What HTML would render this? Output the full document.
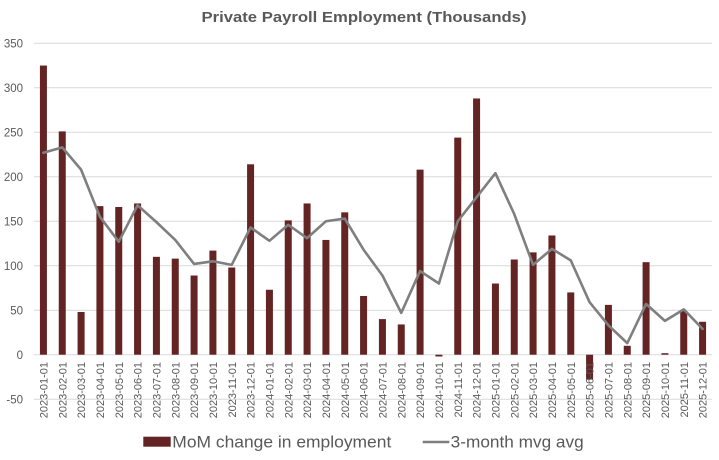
<!DOCTYPE html>
<html><head><meta charset="utf-8"><style>
html,body{margin:0;padding:0;background:#fff;}
svg{display:block;font-family:"Liberation Sans",Arial,sans-serif;}
</style></head><body>
<svg width="719" height="460" viewBox="0 0 719 460" xmlns="http://www.w3.org/2000/svg">
<rect width="719" height="460" fill="#fff"/>
<text x="364" y="22" font-size="15" font-weight="bold" fill="#595959" text-anchor="middle" textLength="325" lengthAdjust="spacingAndGlyphs">Private Payroll Employment (Thousands)</text>
<g stroke="#d9d9d9" stroke-width="1">
<line x1="34" x2="712" y1="43.3" y2="43.3"/>
<line x1="34" x2="712" y1="87.8" y2="87.8"/>
<line x1="34" x2="712" y1="132.3" y2="132.3"/>
<line x1="34" x2="712" y1="176.8" y2="176.8"/>
<line x1="34" x2="712" y1="221.2" y2="221.2"/>
<line x1="34" x2="712" y1="265.7" y2="265.7"/>
<line x1="34" x2="712" y1="310.2" y2="310.2"/>
<line x1="34" x2="712" y1="354.7" y2="354.7"/>
<line x1="34" x2="712" y1="399.2" y2="399.2"/>
</g>
<g font-size="11.5" fill="#595959" text-anchor="end">
<text x="23" y="47.5">350</text>
<text x="23" y="92">300</text>
<text x="23" y="136.5">250</text>
<text x="23" y="181">200</text>
<text x="23" y="225.4">150</text>
<text x="23" y="269.9">100</text>
<text x="23" y="314.4">50</text>
<text x="23" y="358.9">0</text>
<text x="23" y="403.4">-50</text>
</g>
<g fill="#632423">
<rect x="39.92" y="65.55" width="7" height="289.15"/>
<rect x="58.75" y="131.39" width="7" height="223.31"/>
<rect x="77.58" y="311.99" width="7" height="42.71"/>
<rect x="96.42" y="206.12" width="7" height="148.58"/>
<rect x="115.25" y="207.01" width="7" height="147.69"/>
<rect x="134.08" y="203.45" width="7" height="151.25"/>
<rect x="152.92" y="256.83" width="7" height="97.87"/>
<rect x="171.75" y="258.61" width="7" height="96.09"/>
<rect x="190.58" y="275.52" width="7" height="79.18"/>
<rect x="209.42" y="250.61" width="7" height="104.09"/>
<rect x="228.25" y="267.51" width="7" height="87.19"/>
<rect x="247.08" y="164.30" width="7" height="190.40"/>
<rect x="265.92" y="289.75" width="7" height="64.95"/>
<rect x="284.75" y="220.36" width="7" height="134.34"/>
<rect x="303.58" y="203.45" width="7" height="151.25"/>
<rect x="322.42" y="239.93" width="7" height="114.77"/>
<rect x="341.25" y="212.35" width="7" height="142.35"/>
<rect x="360.08" y="295.98" width="7" height="58.72"/>
<rect x="378.92" y="319.11" width="7" height="35.59"/>
<rect x="397.75" y="324.45" width="7" height="30.25"/>
<rect x="416.58" y="169.64" width="7" height="185.06"/>
<rect x="435.42" y="354.7" width="7" height="1.8"/>
<rect x="454.25" y="137.61" width="7" height="217.09"/>
<rect x="473.08" y="98.47" width="7" height="256.23"/>
<rect x="491.92" y="283.52" width="7" height="71.18"/>
<rect x="510.75" y="259.50" width="7" height="95.20"/>
<rect x="529.58" y="252.38" width="7" height="102.32"/>
<rect x="548.42" y="235.48" width="7" height="119.22"/>
<rect x="567.25" y="292.42" width="7" height="62.28"/>
<rect x="586.08" y="354.7" width="7" height="24.91"/>
<rect x="604.92" y="304.88" width="7" height="49.82"/>
<rect x="623.75" y="345.80" width="7" height="8.90"/>
<rect x="642.58" y="262.17" width="7" height="92.53"/>
<rect x="661.42" y="353.2" width="7" height="1.5"/>
<rect x="680.25" y="311.10" width="7" height="43.60"/>
<rect x="699.08" y="321.78" width="7" height="32.92"/>
</g>
<polyline fill="none" stroke="#7f7f7f" stroke-width="2.6" stroke-linejoin="round" stroke-linecap="round" points="43.42,152.74 62.25,147.40 81.08,169.64 99.92,216.80 118.75,241.71 137.58,205.23 156.42,222.13 175.25,239.93 194.08,263.95 212.92,261.28 231.75,264.84 250.58,227.47 269.42,240.82 288.25,224.80 307.08,238.15 325.92,221.25 344.75,218.58 363.58,249.72 382.42,275.52 401.25,312.88 420.08,271.07 438.92,283.52 457.75,221.25 476.58,197.22 495.42,173.20 514.25,214.13 533.08,264.84 551.92,248.83 570.75,260.39 589.58,302.21 608.42,325.34 627.25,343.13 646.08,303.99 664.92,320.89 683.75,309.33 702.58,328.90"/>
<g font-size="11" fill="#595959" text-anchor="end">
<text transform="translate(47.42,362) rotate(-90)">2023-01-01</text>
<text transform="translate(66.25,362) rotate(-90)">2023-02-01</text>
<text transform="translate(85.08,362) rotate(-90)">2023-03-01</text>
<text transform="translate(103.92,362) rotate(-90)">2023-04-01</text>
<text transform="translate(122.75,362) rotate(-90)">2023-05-01</text>
<text transform="translate(141.58,362) rotate(-90)">2023-06-01</text>
<text transform="translate(160.42,362) rotate(-90)">2023-07-01</text>
<text transform="translate(179.25,362) rotate(-90)">2023-08-01</text>
<text transform="translate(198.08,362) rotate(-90)">2023-09-01</text>
<text transform="translate(216.92,362) rotate(-90)">2023-10-01</text>
<text transform="translate(235.75,362) rotate(-90)">2023-11-01</text>
<text transform="translate(254.58,362) rotate(-90)">2023-12-01</text>
<text transform="translate(273.42,362) rotate(-90)">2024-01-01</text>
<text transform="translate(292.25,362) rotate(-90)">2024-02-01</text>
<text transform="translate(311.08,362) rotate(-90)">2024-03-01</text>
<text transform="translate(329.92,362) rotate(-90)">2024-04-01</text>
<text transform="translate(348.75,362) rotate(-90)">2024-05-01</text>
<text transform="translate(367.58,362) rotate(-90)">2024-06-01</text>
<text transform="translate(386.42,362) rotate(-90)">2024-07-01</text>
<text transform="translate(405.25,362) rotate(-90)">2024-08-01</text>
<text transform="translate(424.08,362) rotate(-90)">2024-09-01</text>
<text transform="translate(442.92,362) rotate(-90)">2024-10-01</text>
<text transform="translate(461.75,362) rotate(-90)">2024-11-01</text>
<text transform="translate(480.58,362) rotate(-90)">2024-12-01</text>
<text transform="translate(499.42,362) rotate(-90)">2025-01-01</text>
<text transform="translate(518.25,362) rotate(-90)">2025-02-01</text>
<text transform="translate(537.08,362) rotate(-90)">2025-03-01</text>
<text transform="translate(555.92,362) rotate(-90)">2025-04-01</text>
<text transform="translate(574.75,362) rotate(-90)">2025-05-01</text>
<text transform="translate(593.58,362) rotate(-90)">2025-06-01</text>
<text transform="translate(612.42,362) rotate(-90)">2025-07-01</text>
<text transform="translate(631.25,362) rotate(-90)">2025-08-01</text>
<text transform="translate(650.08,362) rotate(-90)">2025-09-01</text>
<text transform="translate(668.92,362) rotate(-90)">2025-10-01</text>
<text transform="translate(687.75,362) rotate(-90)">2025-11-01</text>
<text transform="translate(706.58,362) rotate(-90)">2025-12-01</text>
</g>
<rect x="143.3" y="436.7" width="27.4" height="10" fill="#632423"/>
<text x="172.3" y="447.3" font-size="17" fill="#595959" textLength="219" lengthAdjust="spacingAndGlyphs">MoM change in employment</text>
<line x1="422.7" x2="449.3" y1="442" y2="442" stroke="#7f7f7f" stroke-width="2.6"/>
<text x="450.7" y="447.3" font-size="17" fill="#595959" textLength="133" lengthAdjust="spacingAndGlyphs">3-month mvg avg</text>
</svg>
</body></html>
